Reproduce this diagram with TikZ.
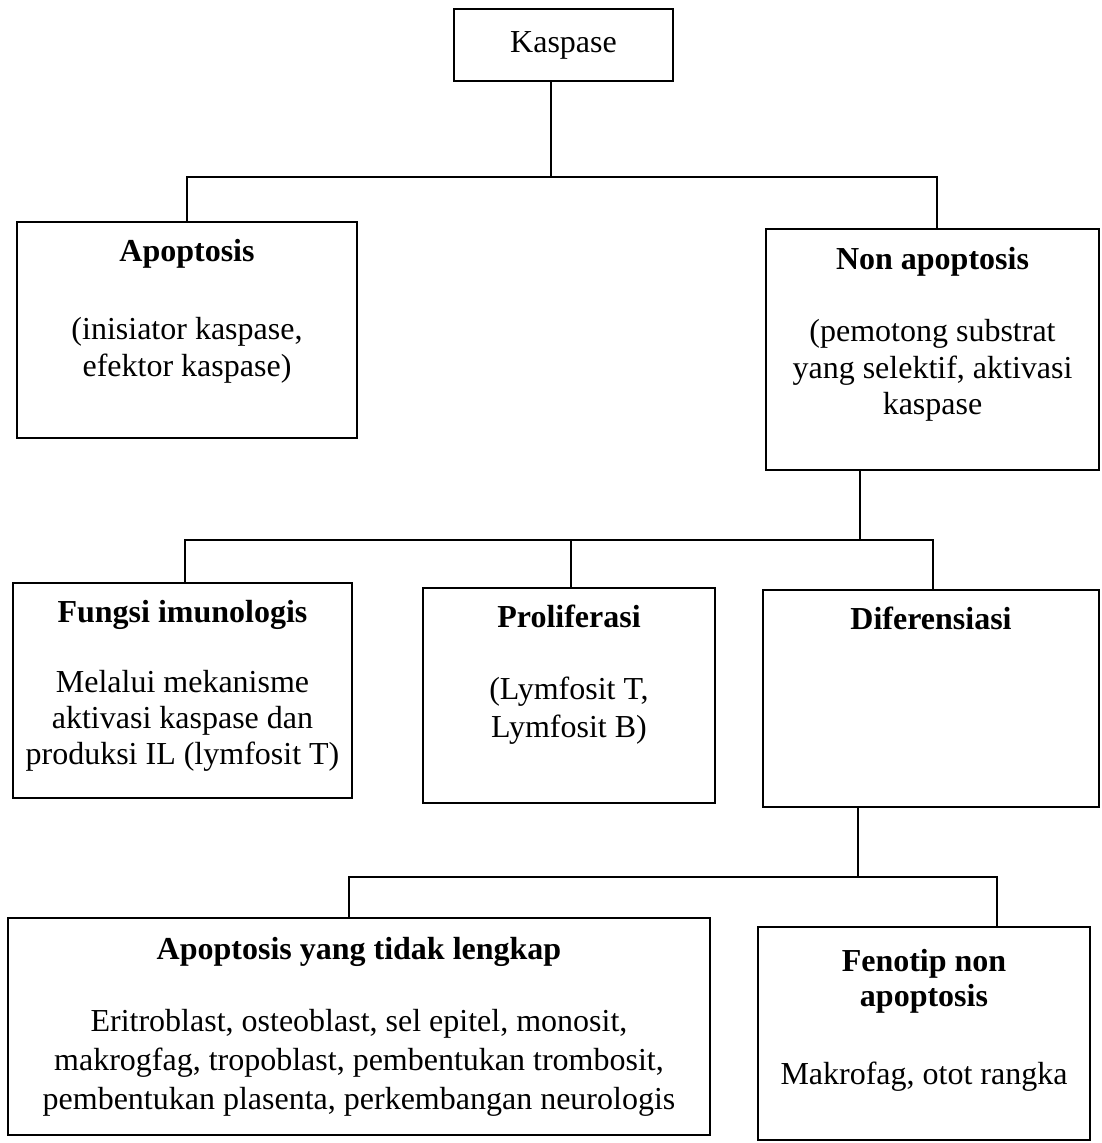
\documentclass[tikz,border=0pt]{standalone}
\usepackage{fontspec}
\setmainfont{Liberation Serif}
\begin{document}
\begin{tikzpicture}[x=1pt,y=1pt,
  box/.style={draw,line width=1.8pt,inner sep=0pt,rectangle},
  conn/.style={line width=1.8pt},
  txt/.style={font=\fontsize{32}{37}\selectfont,align=center,inner sep=0pt,anchor=base},
  head/.style={txt,font=\fontsize{32}{35}\selectfont\bfseries}]
\useasboundingbox (0,0) rectangle (1101,1143);
% boxes
\node[box,minimum width=219pt,minimum height=72pt,font=\fontsize{32}{37}\selectfont] (kas) at (563.5,1098) {Kaspase};
\node[box,minimum width=340pt,minimum height=216pt] (apo) at (187,813) {};
\node[box,minimum width=333pt,minimum height=241pt] (non) at (932.5,793.5) {};
\node[box,minimum width=339pt,minimum height=215pt] (fun) at (182.5,452.5) {};
\node[box,minimum width=292pt,minimum height=215pt] (prol) at (569,447.5) {};
\node[box,minimum width=336pt,minimum height=217pt] (dif) at (931,444.5) {};
\node[box,minimum width=702pt,minimum height=217pt] (aptl) at (359,116.5) {};
\node[box,minimum width=332pt,minimum height=213pt] (fen) at (924,109.5) {};
% texts (anchor=base is the baseline of the last line)
\node[head] (apoH) at (187,881) {Apoptosis};
\node[txt] (apoB) at (187,766) {(inisiator kaspase,\\efektor kaspase)};
\node[head] (nonH) at (932.5,873) {Non apoptosis};
\node[txt,font=\fontsize{32}{36.5}\selectfont] (nonB) at (932.5,728) {(pemotong substrat\\yang selektif, aktivasi\\kaspase};
\node[head] (funH) at (182.5,520) {Fungsi imunologis};
\node[txt,font=\fontsize{32}{36}\selectfont] (funB) at (182.5,378) {Melalui mekanisme\\aktivasi kaspase dan\\produksi IL (lymfosit T)};
\node[head] (prolH) at (569,515) {Proliferasi};
\node[txt,font=\fontsize{32}{38}\selectfont] (prolB) at (569,405) {(Lymfosit T,\\Lymfosit B)};
\node[head] (difH) at (931,513) {Diferensiasi};
\node[head] (aptlH) at (359,183) {Apoptosis yang tidak lengkap};
\node[txt,font=\fontsize{32}{39}\selectfont] (aptlB) at (359,33) {Eritroblast, osteoblast, sel epitel, monosit,\\makrogfag, tropoblast, pembentukan trombosit,\\pembentukan plasenta, perkembangan neurologis};
\node[head] (fenH) at (924,136) {Fenotip non\\apoptosis};
\node[txt] (fenB) at (924,58) {Makrofag, otot rangka};
% connectors
\coordinate (t1) at (551,966);
\draw[conn] (kas.south -| t1) -- (t1);
\draw[conn] (apo.north) |- (t1) -| ([xshift=4.5pt]non.north);
\coordinate (t2) at (860,603);
\draw[conn] (non.south -| t2) -- (t2);
\draw[conn] ([xshift=2.5pt]fun.north) |- (t2) -| ([xshift=2pt]dif.north);
\draw[conn] ([xshift=2pt]prol.north) -- ([xshift=2pt]prol.north |- t2);
\coordinate (t3) at (858,266);
\coordinate (a3) at (349,266);
\coordinate (f3) at (997,266);
\draw[conn] (dif.south -| t3) -- (t3);
\draw[conn] (aptl.north -| a3) -- (a3) -- (f3) -- (fen.north -| f3);
\end{tikzpicture}
\end{document}
